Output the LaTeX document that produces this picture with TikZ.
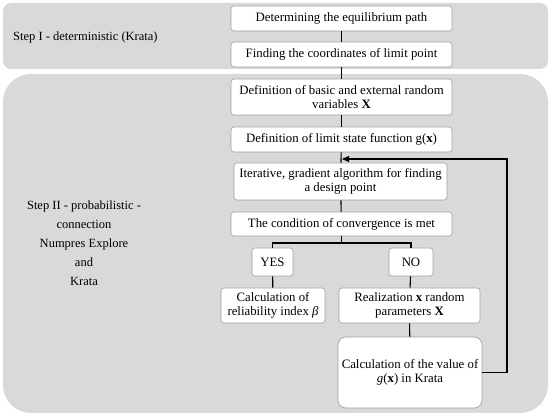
\documentclass[tikz,border=0pt]{standalone}
\usepackage{fontspec}
\setmainfont{Liberation Serif}
\usetikzlibrary{arrows.meta,calc}
\definecolor{panelgray}{RGB}{217,217,217}
\definecolor{boxline}{RGB}{160,160,160}
\tikzset{
  panel/.style={fill=panelgray,draw=none},
  flowbox/.style={draw=boxline,fill=white,line width=0.6pt,rounded corners=3pt,
    align=center,inner sep=2pt,font=\fontsize{12.8}{14}\selectfont},
  conn/.style={line width=1.1pt,black},
  lbl/.style={align=center,inner sep=0pt,font=\fontsize{12.5}{19}\selectfont}
}
\begin{document}
\begin{tikzpicture}[x=1pt,y=-1pt]
\useasboundingbox (0,0) rectangle (550,417);
% panels
\fill[panel,rounded corners=8pt] (3,3) rectangle (548,69);
\fill[panel,rounded corners=28pt] (3,74) rectangle (548,413);
% labels
\node[lbl,anchor=west] (s1) at (13,37) {Step I - deterministic (Krata)};
\node[lbl] (s2) at (84,243) {Step II - probabilistic -\\connection\\Numpres Explore\\and\\Krata};
% boxes
\node[flowbox,minimum width=221pt,minimum height=25pt] (b1) at (341.5,18.5) {Determining the equilibrium path};
\node[flowbox,minimum width=221pt,minimum height=25pt] (b2) at (341.5,54.5) {Finding the coordinates of limit point};
\node[flowbox,minimum width=221pt,minimum height=36pt] (b3) at (341.5,97) {Definition of basic and external random\\variables \textbf{X}};
\node[flowbox,minimum width=221pt,minimum height=25pt] (b4) at (341.5,139.5) {Definition of limit state function g(\textbf{x})};
\node[flowbox,minimum width=213pt,minimum height=37pt] (b5) at (340.5,181.5) {Iterative, gradient algorithm for finding\\a design point};
\node[flowbox,minimum width=221pt,minimum height=24pt] (b6) at (341.5,224) {The condition of convergence is met};
\node[flowbox,minimum width=41pt,minimum height=28pt] (yes) at (272.5,262) {YES};
\node[flowbox,minimum width=44pt,minimum height=28pt] (no) at (411,262) {NO};
\node[flowbox,minimum width=104pt,minimum height=35pt] (b7) at (273,305.5) {Calculation of\\reliability index \textit{β}};
\node[flowbox,minimum width=141pt,minimum height=35pt] (b8) at (409.5,305.5) {Realization \textbf{x} random\\parameters \textbf{X}};
\node[flowbox,minimum width=144pt,minimum height=71pt,rounded corners=8pt] (b9) at (410,372.5) {Calculation of the value of\\\textit{g}(\textbf{x}) in Krata};
% connectors
\coordinate (br) at (341.5,243);
\coordinate (ret) at (507,159);
\draw[conn] (b1) -- (b2);
\draw[conn] (b2) -- (b3);
\draw[conn] (b3) -- (b4);
\draw[conn] (b4) -- (b5);
\draw[conn] (b5) -- (b6);
\draw[conn] (b6.south) -- (br);
\draw[conn] (yes.north) |- (br) -| (no.north);
\draw[conn] (yes) -- (b7);
\draw[conn] (no) -- (b8);
\draw[conn] (b8) -- (b9);
\draw[conn,-{Triangle[length=7pt,width=6pt]},shorten >=0.5pt] (b9.east) -| (ret) -- (b4.south |- ret);
\end{tikzpicture}
\end{document}
